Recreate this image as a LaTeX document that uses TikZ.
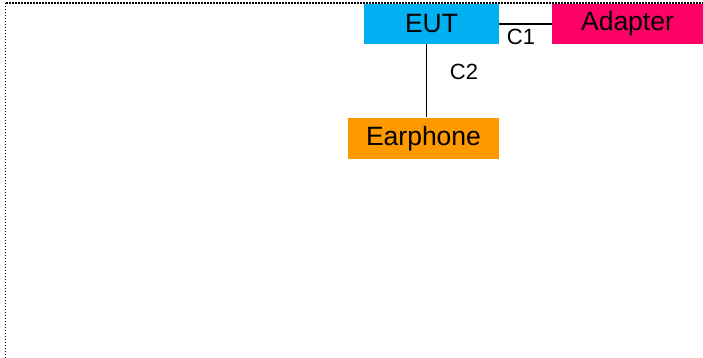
\documentclass[tikz,border=0pt]{standalone}
\usepackage{fontspec}
\setmainfont{Liberation Sans}
\usepackage{xcolor}
\usepackage{tikz}
\usetikzlibrary{positioning,calc}

\definecolor{eutblue}{HTML}{00B0F0}
\definecolor{adapterpink}{HTML}{FF0066}
\definecolor{earorange}{HTML}{FF9900}

\begin{document}
\begin{tikzpicture}[
    x=1pt, y=-1pt,
    unit/.style={rectangle, inner sep=0pt, minimum height=40pt, font=\fontsize{26.5}{30}\selectfont},
    cable/.style={line width=1.3pt},
    cablelabel/.style={inner sep=0pt, font=\fontsize{22}{26}\selectfont},
]
\useasboundingbox (0,0) rectangle (703,358);

% Dotted frame (only top and left edges visible)
\draw[line width=1.4pt, dash pattern=on 1.4pt off 1.6pt] (5.5,3) rectangle (720,380);

% Units
\node[unit, fill=eutblue, minimum width=135pt] (eut) at (431.5,23.9) {EUT};
\node[unit, fill=adapterpink, minimum width=151pt] (adapter) at (627.5,23.9) {Adapter};
\node[unit, fill=earorange, minimum width=151pt, minimum height=41pt] (earphone) at (423.5,138.2) {Earphone};

% Cables
\draw[cable] (eut.east) -- (adapter.west);
\draw[cable] ([xshift=3pt]eut.south -| earphone.north) -- ([xshift=3pt]earphone.north);

% Cable labels
\node[cablelabel] (c1) at (521,37) {C1};
\node[cablelabel] (c2) at (464,72) {C2};

\end{tikzpicture}
\end{document}
